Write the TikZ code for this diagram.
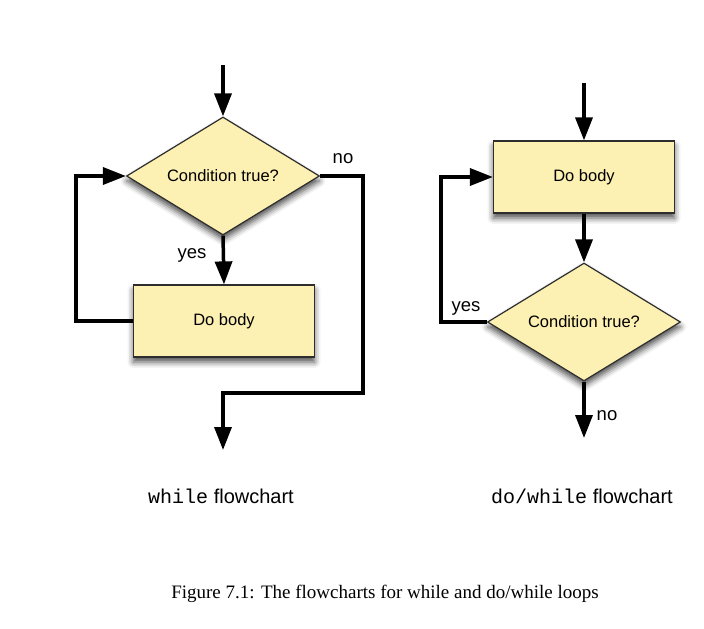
\documentclass[tikz,border=0pt]{standalone}
\usepackage{fontspec}
\setmainfont{Liberation Serif}
\setsansfont{Liberation Sans}
\setmonofont{Liberation Mono}
\usetikzlibrary{shapes.geometric,arrows.meta,shadows.blur}

\definecolor{boxfill}{RGB}{252,240,178}
\definecolor{edgegray}{RGB}{45,45,45}

\begin{document}
\begin{tikzpicture}[x=1pt,y=-1pt,
        shade/.style={blur shadow={shadow xshift=0pt,shadow yshift=-5pt,shadow blur radius=6pt,shadow opacity=70}},
        bodybox/.style={rectangle,draw=edgegray,line width=1.2pt,fill=boxfill,shade,
            minimum width=181pt,minimum height=72pt,font=\sffamily\fontsize{16.5}{19}\selectfont},
        decision/.style={diamond,aspect=1.6,inner sep=0pt,draw=edgegray,line width=1.2pt,fill=boxfill,shade,
            minimum width=193pt,minimum height=118pt,font=\sffamily\fontsize{16.5}{19}\selectfont},
        flow/.style={line width=3.5pt,-{Triangle[length=23pt,width=17pt]}},
        lbl/.style={font=\sffamily\fontsize{18.5}{22}\selectfont},
        title/.style={font=\sffamily\fontsize{20}{24}\selectfont}]
        \useasboundingbox (0,0) rectangle (704,629);
    
        % while
        \node[decision] (cond1) at (223,176) {Condition true?};
        \node[bodybox] (body1) at (224,321) {Do body};
        \coordinate (start1) at (223,65);
        \coordinate (back1) at (76,321);
        \coordinate (skip1) at (363,393);
        \coordinate (end1) at (223,450);
    
        \draw[flow] (start1) -- (cond1.north);
        \draw[flow] (cond1.south) -- (body1.north);
        \draw[flow] (body1.west) -- (back1) |- (cond1.west);
        \draw[flow] (cond1.east) -| (skip1) -| (end1);
    
        \node[lbl] (yes1) at (192,255) {yes};
        \node[lbl] (no1) at (343,159) {no};
    
        % do/while
        \node[bodybox] (body2) at (584,177) {Do body};
        \node[decision] (cond2) at (584,322) {Condition true?};
        \coordinate (start2) at (584,83);
        \coordinate (back2) at (441,322);
        \coordinate (end2) at (584,438);
    
        \draw[flow] (start2) -- (body2.north);
        \draw[flow] (body2.south) -- (cond2.north);
        \draw[flow] (cond2.west) -- (back2) |- (body2.west);
        \draw[flow] (cond2.south) -- (end2);
    
        \node[lbl] (yes2) at (466,308) {yes};
        \node[lbl] (no2) at (607,416) {no};
    
        \node[title] (title1) at (221,496) {\texttt{while} flowchart};
        \node[title] (title2) at (582,496) {\texttt{do/while} flowchart};
        \node[font=\fontsize{19}{23}\selectfont] (caption) at (385,594) {Figure 7.1: The flowcharts for while and do/while loops};
    \end{tikzpicture}
\end{document}
